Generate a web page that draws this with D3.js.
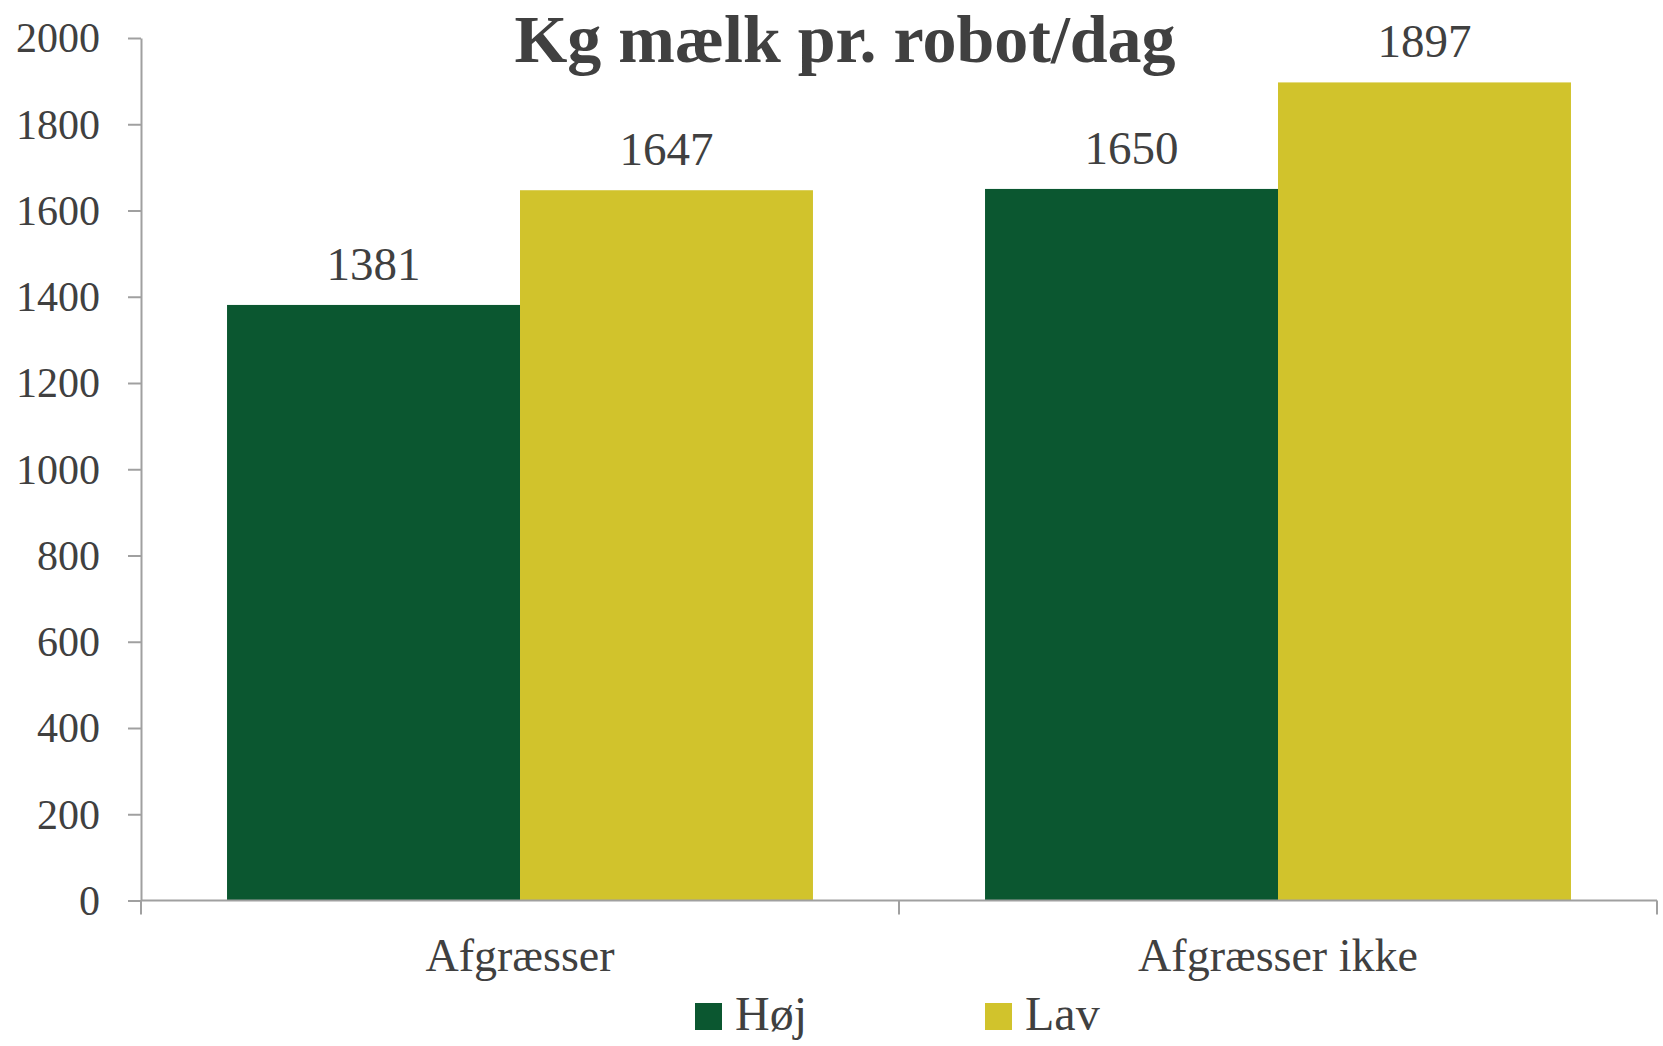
<!DOCTYPE html>
<html>
<head>
<meta charset="utf-8">
<script src="https://cdn.jsdelivr.net/npm/d3@7"></script>
<style>
  body { margin: 0; background: #fff; }
  text { font-family: "Liberation Serif", "DejaVu Serif", serif; fill: #404040; }
</style>
</head>
<body>
<div class="chart"></div>
<script>
var categories = ["Afgræsser", "Afgræsser ikke"];
var seriesNames = ["Høj", "Lav"];
var hojValues = [1381, 1650];
var lavValues = [1647, 1897];
var yTicks = [0, 200, 400, 600, 800, 1000, 1200, 1400, 1600, 1800, 2000];
var colors = ["#0b5730", "#d1c32c"];

var width = 1663, height = 1046;
var padding = { top: 38, right: 6, bottom: 145.5, left: 141 };

var svg = d3.select(".chart")
  .append("svg")
    .attr("class", "my_canvas")
    .attr("width", width)
    .attr("height", height);

// build rows from the arrays
var data = categories.map(function(c, i) {
  return { category: c, values: [hojValues[i], lavValues[i]] };
});

var x_scale = d3.scaleBand()
  .domain(categories)
  .range([padding.left, width - padding.right])
  .paddingInner(0.227)
  .paddingOuter(0.1135);

var x_inner = d3.scaleBand()
  .domain(seriesNames)
  .range([0, x_scale.bandwidth()])
  .padding(0);

var y_scale = d3.scaleLinear()
  .domain([0, 2000])
  .range([height - padding.bottom, padding.top]);

var color_scale = d3.scaleOrdinal()
  .domain(seriesNames)
  .range(colors);

// bars
var groups = svg.selectAll(".group")
  .data(data)
  .enter()
  .append("g")
    .attr("class", "group")
    .attr("transform", function(d) { return "translate(" + x_scale(d.category) + ",0)"; });

groups.selectAll("rect")
  .data(function(d) { return d.values.map(function(v, j) { return { name: seriesNames[j], value: v }; }); })
  .enter()
  .append("rect")
    .attr("x", function(d) { return x_inner(d.name); })
    .attr("y", function(d) { return y_scale(d.value); })
    .attr("width", x_inner.bandwidth())
    .attr("height", function(d) { return y_scale(0) - y_scale(d.value); })
    .attr("fill", function(d) { return color_scale(d.name); });

// value labels
groups.selectAll(".val")
  .data(function(d) { return d.values.map(function(v, j) { return { name: seriesNames[j], value: v }; }); })
  .enter()
  .append("text")
    .attr("class", "val")
    .attr("x", function(d) { return x_inner(d.name) + x_inner.bandwidth() / 2; })
    .attr("y", function(d) { return y_scale(d.value) - 25; })
    .attr("text-anchor", "middle")
    .style("font-size", "47px")
    .text(function(d) { return d.value; });

// Y axis
var yAxis = svg.append("g")
  .attr("class", "y-axis")
  .attr("transform", "translate(" + padding.left + ",0)")
  .call(d3.axisLeft(y_scale).tickValues(yTicks).tickFormat(d3.format("d"))
    .tickSize(13).tickPadding(28).tickSizeOuter(0));

yAxis.selectAll("text")
  .style("font-size", "42px")
  .attr("dy", "0.33em");

// X axis: ticks at category boundaries
var xAxis = svg.append("g")
  .attr("class", "x-axis")
  .attr("transform", "translate(0," + y_scale(0) + ")");

var step = x_scale.step();
var bounds = d3.range(categories.length + 1).map(function(i) { return padding.left + i * step; });

xAxis.append("line")
  .attr("x1", padding.left).attr("x2", width - padding.right)
  .attr("y1", 0).attr("y2", 0);

xAxis.selectAll(".xt")
  .data(bounds)
  .enter()
  .append("line")
    .attr("class", "xt")
    .attr("x1", function(d) { return d; }).attr("x2", function(d) { return d; })
    .attr("y1", 0).attr("y2", 14);

xAxis.selectAll(".cat")
  .data(categories)
  .enter()
  .append("text")
    .attr("class", "cat")
    .attr("x", function(d) { return x_scale(d) + x_scale.bandwidth() / 2; })
    .attr("y", 70)
    .attr("text-anchor", "middle")
    .style("font-size", "46px")
    .text(function(d) { return d; });

svg.selectAll(".y-axis path, .y-axis line, .x-axis line")
  .attr("stroke", "#a0a0a0")
  .attr("stroke-width", 2);

// title
svg.append("text")
  .attr("x", 845)
  .attr("y", 62)
  .attr("text-anchor", "middle")
  .style("font-size", "68px")
  .style("font-weight", "bold")
  .text("Kg mælk pr. robot/dag");

// legend
var legendX = [695, 985];
var legend = svg.selectAll(".legend")
  .data(seriesNames)
  .enter()
  .append("g")
    .attr("class", "legend")
    .attr("transform", function(d, i) { return "translate(" + legendX[i] + ",1003)"; });

legend.append("rect")
  .attr("width", 27)
  .attr("height", 27)
  .attr("fill", function(d) { return color_scale(d); });

legend.append("text")
  .attr("x", 40)
  .attr("y", 27)
  .style("font-size", "48px")
  .text(function(d) { return d; });
</script>
</body>
</html>
